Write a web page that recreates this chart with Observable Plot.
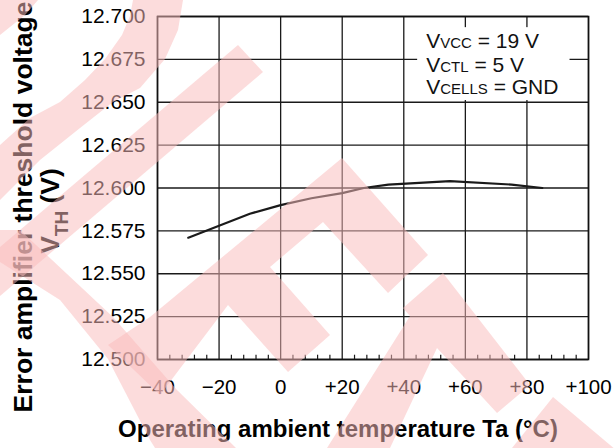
<!DOCTYPE html>
<html>
<head>
<meta charset="utf-8">
<script src="https://cdn.jsdelivr.net/npm/d3@7"></script>
<script src="https://cdn.jsdelivr.net/npm/@observablehq/plot@0.6"></script>
<style>
  html, body { margin: 0; padding: 0; background: #fff; }
  #wrap { position: relative; width: 616px; height: 448px; overflow: hidden; }
  #wrap > svg { display: block; }
  #wm { position: absolute; left: 0; top: 0; pointer-events: none; }
</style>
</head>
<body>
<div id="wrap"></div>
<script>
// ---- data ----
const temps = [-30, -20, -10, 0, 10, 20, 27, 35, 55, 75, 85];
const vth   = [12.571, 12.578, 12.585, 12.590, 12.594, 12.597, 12.600, 12.602, 12.604, 12.602, 12.600];
const xTicks = [-40, -20, 0, 20, 40, 60, 80, 100];
const yTicks = [12.500, 12.525, 12.550, 12.575, 12.600, 12.625, 12.650, 12.675, 12.700];
const minorXTicks = d3.range(-36, 100, 4).filter(d => d % 20 !== 0);
const conditions = ["Vvcc = 19 V", "Vctl = 5 V", "Vcells = GND"];
const xTitle = "Operating ambient temperature Ta (°C)";
const yTitle = "Error amplifier threshold voltage";

// annotation placement (data units)
const condX = 47.3;
const condY = [12.6858, 12.6713, 12.659];
const condBox = [{x1: 44.5, x2: 94, y1: 12.651, y2: 12.6935}];

const fmtX = d => d > 0 ? "+" + d : d < 0 ? "\u2212" + (-d) : "0";
const points = temps.map((t, i) => ({t, v: vth[i]}));

const chart = Plot.plot({
  width: 616,
  height: 448,
  marginLeft: 157,
  marginRight: 28,
  marginTop: 16,
  marginBottom: 89,
  x: {domain: [-40, 100], label: null},
  y: {domain: [12.5, 12.7], label: null},
  style: {
    fontFamily: '"Liberation Sans", Arial, Helvetica, sans-serif',
    fontSize: "20px",
    color: "#000",
    background: "white",
    overflow: "visible"
  },
  marks: [
    Plot.ruleX(xTicks, {stroke: "#1a1a1a", strokeWidth: 1.3}),
    Plot.ruleY(yTicks, {stroke: "#1a1a1a", strokeWidth: 1.3}),
    Plot.ruleX(minorXTicks, {x: d => d, y1: () => 12.5, y2: () => 12.5025, stroke: "#1a1a1a", strokeWidth: 1.2}),
    Plot.rect(condBox, {x1: "x1", x2: "x2", y1: "y1", y2: "y2", fill: "white"}),
    Plot.text(conditions, {
      x: () => condX, y: (d, i) => condY[i], text: d => d,
      textAnchor: "start", lineAnchor: "middle", fontVariant: "small-caps",
      fontSize: 21, fill: "#111"
    }),
    Plot.line(points, {x: "t", y: "v", stroke: "#1a1a1a", strokeWidth: 2.2}),
    Plot.frame({stroke: "#111", strokeWidth: 1.6}),
    Plot.axisX({ticks: xTicks, tickSize: 0, tickPadding: 20, tickFormat: fmtX, label: null, fontSize: 20.5}),
    Plot.axisY({ticks: yTicks, tickSize: 0, tickPadding: 12, tickFormat: d3.format(".3f"), label: null, fontSize: 21})
  ]
});

document.getElementById("wrap").appendChild(chart);

const svg = d3.select(chart);
const ff = '"Liberation Sans", Arial, Helvetica, sans-serif';

// x-axis title
svg.append("text")
  .attr("x", 338).attr("y", 437)
  .attr("text-anchor", "middle")
  .attr("font-family", ff).attr("font-weight", "bold").attr("font-size", 24)
  .attr("fill", "#000")
  .text(xTitle);

// y-axis title, two lines
svg.append("text")
  .attr("transform", "translate(32,207) rotate(-90)")
  .attr("text-anchor", "middle")
  .attr("font-family", ff).attr("font-weight", "bold").attr("font-size", 26.5)
  .attr("fill", "#000")
  .text(yTitle);

const t2 = svg.append("text")
  .attr("transform", "translate(59,211) rotate(-90)")
  .attr("text-anchor", "middle")
  .attr("font-family", ff).attr("font-weight", "bold").attr("font-size", 26.5)
  .attr("fill", "#000");
t2.append("tspan").text("V");
t2.append("tspan").attr("font-size", 19).attr("dy", 9).text("TH");
t2.append("tspan").attr("dy", -9).text(" (V)");

// decorative watermark overlay seen in the reference image
const watermark = [
  [[0,0],[38,0],[25,15],[0,35]],
  [[133,0],[183,0],[178,30],[165,59],[140,88],[113,102],[80,128],[40,160],[0,200],[0,145],[30,118],[60,102],[85,80],[105,59],[122,35],[130,16]],
  [[238,45],[263,72],[0,296],[0,247]],
  [[342,158],[428,255],[388,293],[323,222],[270,267],[330,335],[288,372],[228,305],[160,395],[108,345],[150,317]],
  [[0,230],[20,230],[113,317],[177,390],[236,448],[155,448],[150,440],[108,359],[60,300],[0,262]],
  [[443,273],[530,385],[497,413],[437,348],[390,448],[327,448],[410,316],[403,308]],
  [[553,397],[616,450],[616,448],[512,448]]
];
const wm = d3.select("#wrap").append("svg").attr("id", "wm")
  .attr("width", 616).attr("height", 448);
wm.selectAll("polygon").data(watermark).join("polygon")
  .attr("points", d => d.map(p => p.join(",")).join(" "))
  .attr("fill", "rgb(250,188,188)")
  .attr("fill-opacity", 0.52);
</script>
</body>
</html>
